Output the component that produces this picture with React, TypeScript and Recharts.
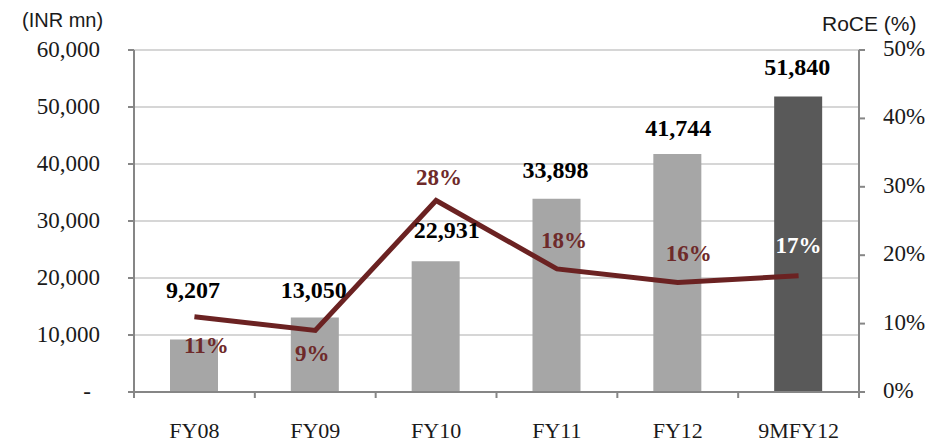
import React from "react";
import { ComposedChart, Bar, Line, XAxis, YAxis, CartesianGrid, Cell, LabelList } from "recharts";

// ---- data ----
const categories = ["FY08", "FY09", "FY10", "FY11", "FY12", "9MFY12"];
const capitalEmployed = [9207, 13050, 22931, 33898, 41744, 51840];
const roce = [11, 9, 28, 18, 16, 17];
const leftTicks = [0, 10000, 20000, 30000, 40000, 50000, 60000];
const rightTicks = [0, 10, 20, 30, 40, 50];

const data = categories.map((c, i) => ({ cat: c, ce: capitalEmployed[i], roce: roce[i] }));

// ---- layout / style ----
const W = 944;
const H = 444;
const LEFT_W = 134;
const RIGHT_W = 85;
const TOP = 50;
const XAXIS_H = 52;
const BAND = (W - LEFT_W - RIGHT_W) / categories.length;
const SERIF = "'Liberation Serif', 'Times New Roman', serif";
const SANS = "'Liberation Sans', Arial, sans-serif";
const AXIS = "#868686";
const GRID = "#c8c8c8";
const BAR_LIGHT = "#a6a6a6";
const BAR_DARK = "#595959";
const LINE = "#6b2222";
const PCT_TEXT = "#6e2a2a";

// label nudges (layout only)
const barLabelNudge: [number, number][] = [[-1, -50], [-1, -28], [11, -31], [-1, -29], [1, -26], [-1, -30]];
const pctLabelNudge: [number, number][] = [[12, 28], [-3, 23], [3, -23], [7, -29], [11, -30], [0, -31]];

const fmt = (v: number) => v.toLocaleString("en-US");

const LeftTick = (props: any) => {
  const { x, y, payload } = props;
  const v = payload.value as number;
  return (
    <text x={v === 0 ? x - 9 : x} y={y + 6.5} textAnchor="end" fontFamily={SERIF} fontSize={23} fill="#1a1a1a">
      {v === 0 ? "-" : fmt(v)}
    </text>
  );
};

const RightTick = (props: any) => {
  const { x, y, payload } = props;
  return (
    <text x={x} y={y + 6} textAnchor="start" fontFamily={SERIF} fontSize={23} fill="#1a1a1a">
      {payload.value + "%"}
    </text>
  );
};

const XTick = (props: any) => {
  const { x, y, payload, index } = props;
  const last = index === categories.length - 1;
  return (
    <g>
      <line x1={x - BAND / 2} x2={x - BAND / 2} y1={y} y2={y + 6} stroke={AXIS} strokeWidth={2} />
      {last && <line x1={x + BAND / 2} x2={x + BAND / 2} y1={y} y2={y + 6} stroke={AXIS} strokeWidth={2} />}
      <text x={x} y={y + 46} textAnchor="middle" fontFamily={SERIF} fontSize={22} fill="#1a1a1a">
        {payload.value}
      </text>
    </g>
  );
};

const BarValueLabel = (props: any) => {
  const { x, y, width, value, index } = props;
  const [dx, dy] = barLabelNudge[index] || [0, -29];
  return (
    <text
      x={x + width / 2 + dx}
      y={y + dy + 8}
      textAnchor="middle"
      fontFamily={SERIF}
      fontWeight="bold"
      fontSize={24}
      fill="#000"
    >
      {fmt(value)}
    </text>
  );
};

const PctLabel = (props: any) => {
  const { x, y, value, index } = props;
  const [dx, dy] = pctLabelNudge[index] || [0, -28];
  const last = index === categories.length - 1;
  return (
    <text
      x={x + dx}
      y={y + dy + 8}
      textAnchor="middle"
      fontFamily={SERIF}
      fontWeight="bold"
      fontSize={23}
      fill={last ? "#ffffff" : PCT_TEXT}
    >
      {value + "%"}
    </text>
  );
};

export default function App() {
  return (
    <div style={{ position: "absolute", left: 0, top: 0, width: W, height: H, background: "#fff" }}>
      <ComposedChart width={W} height={H} data={data} margin={{ top: TOP, right: 0, bottom: 0, left: 0 }}>
        <CartesianGrid yAxisId="left" vertical={false} stroke={GRID} strokeWidth={1.5} />
        <XAxis
          dataKey="cat"
          height={XAXIS_H}
          axisLine={{ stroke: AXIS, strokeWidth: 2 }}
          tickLine={false}
          tickSize={0}
          tickMargin={0}
          tick={<XTick />}
          interval={0}
        />
        <YAxis
          yAxisId="left"
          width={LEFT_W}
          domain={[0, 60000]}
          ticks={leftTicks}
          interval={0}
          tickSize={6}
          tickMargin={28}
          axisLine={{ stroke: AXIS, strokeWidth: 2 }}
          tickLine={{ stroke: AXIS, strokeWidth: 2 }}
          tick={<LeftTick />}
        />
        <YAxis
          yAxisId="right"
          orientation="right"
          width={RIGHT_W}
          domain={[0, 50]}
          ticks={rightTicks}
          interval={0}
          tickSize={6}
          tickMargin={18}
          axisLine={{ stroke: AXIS, strokeWidth: 2 }}
          tickLine={{ stroke: AXIS, strokeWidth: 2 }}
          tick={<RightTick />}
        />
        <Bar yAxisId="left" dataKey="ce" barSize={48} isAnimationActive={false}>
          {data.map((d, i) => (
            <Cell key={d.cat} fill={i === data.length - 1 ? BAR_DARK : BAR_LIGHT} />
          ))}
          <LabelList dataKey="ce" content={<BarValueLabel />} />
        </Bar>
        <Line
          yAxisId="right"
          dataKey="roce"
          stroke={LINE}
          strokeWidth={5}
          dot={false}
          activeDot={false}
          isAnimationActive={false}
          strokeLinejoin="miter"
        >
          <LabelList dataKey="roce" content={<PctLabel />} />
        </Line>
        <text x={22} y={27} fontFamily={SANS} fontSize={20} fill="#1a1a1a">
          (INR mn)
        </text>
        <text x={822} y={31} fontFamily={SANS} fontSize={21} fill="#1a1a1a">
          RoCE (%)
        </text>
      </ComposedChart>
    </div>
  );
}
